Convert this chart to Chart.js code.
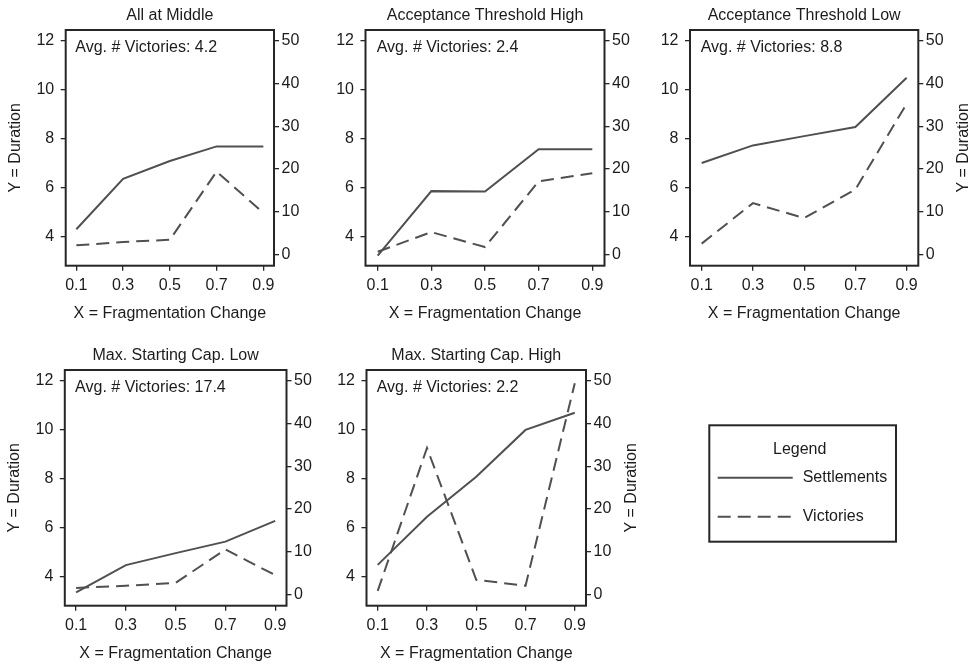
<!DOCTYPE html>
<html>
<head>
<meta charset="utf-8">
<script src="https://cdn.jsdelivr.net/npm/chart.js@4"></script>
<style>
  body { margin: 0; background: #fff; }
  #wrap { position: relative; width: 975px; height: 667px; }
  #wrap canvas { position: absolute; left: 0; top: 0; }
</style>
</head>
<body>
<div id="wrap"></div>
<script>
// ---- data ----
const xValues = [0.1, 0.3, 0.5, 0.7, 0.9];
const xTicks = [0.1, 0.3, 0.5, 0.7, 0.9];
const durationTicks = [4, 6, 8, 10, 12];
const victoryTicks = [0, 10, 20, 30, 40, 50];
const seriesNames = ["Settlements", "Victories"];

const panelTitles = [
  "All at Middle",
  "Acceptance Threshold High",
  "Acceptance Threshold Low",
  "Max. Starting Cap. Low",
  "Max. Starting Cap. High"
];
const avgVictories = ["4.2", "2.4", "8.8", "17.4", "2.2"];

// settlements -> left axis (duration), victories -> right axis
const settlementsAllMiddle = [4.30, 6.36, 7.09, 7.69, 7.69];
const victoriesAllMiddle = [2.1, 2.9, 3.4, 19.4, 9.7];
const settlementsAccHigh = [3.22, 5.86, 5.84, 7.57, 7.57];
const victoriesAccHigh = [0.6, 5.2, 1.7, 17.1, 19.0];
const settlementsAccLow = [7.01, 7.73, 8.11, 8.48, 10.5];
const victoriesAccLow = [2.5, 12.0, 8.5, 15.2, 35.3];
const settlementsCapLow = [3.35, 4.47, 4.96, 5.43, 6.28];
const victoriesCapLow = [1.5, 2.0, 2.7, 10.5, 4.5];
const settlementsCapHigh = [4.48, 6.45, 8.08, 10.0, 10.7];
const victoriesCapHigh = [0.8, 34.3, 3.4, 2.0, 49.5];

// ---- layout / style ----
const W = 975, H = 667;
const FONT = "Liberation Sans, Arial, Helvetica, sans-serif";
const FS = 16;
const TEXT = "#1c1c1c";
const LINE = "#505050";
const FRAME = "#262626";

const panels = [
  { title: panelTitles[0], avg: avgVictories[0], s: settlementsAllMiddle, v: victoriesAllMiddle, box: [65.7, 30, 274, 265.7], yLabel: "left" },
  { title: panelTitles[1], avg: avgVictories[1], s: settlementsAccHigh, v: victoriesAccHigh, box: [365.5, 30, 604.5, 265.7], yLabel: null },
  { title: panelTitles[2], avg: avgVictories[2], s: settlementsAccLow, v: victoriesAccLow, box: [690, 30, 918.3, 265.7], yLabel: "right" },
  { title: panelTitles[3], avg: avgVictories[3], s: settlementsCapLow, v: victoriesCapLow, box: [64.8, 370, 286.5, 605.7], yLabel: "left" },
  { title: panelTitles[4], avg: avgVictories[4], s: settlementsCapHigh, v: victoriesCapHigh, box: [366.5, 370, 586, 605.7], yLabel: "right", legend: true }
];

const tickGrid = { display: true, drawOnChartArea: false, drawTicks: true, tickLength: 5, color: FRAME, lineWidth: 1.3 };
const tickFont = { family: FONT, size: FS };

function txt(ctx, s, x, y, align) {
  ctx.save();
  ctx.font = FS + "px " + FONT;
  ctx.fillStyle = TEXT;
  ctx.textAlign = align || "center";
  ctx.textBaseline = "middle";
  ctx.fillText(s, x, y);
  ctx.restore();
}

const panelDecor = {
  id: "panelDecor",
  afterDraw(chart, args, opts) {
    const p = opts.panel;
    const { ctx, chartArea: a } = chart;
    const cx = (a.left + a.right) / 2;
    ctx.save();
    ctx.strokeStyle = FRAME;
    ctx.lineWidth = 2;
    ctx.strokeRect(a.left, a.top, a.right - a.left, a.bottom - a.top);
    ctx.restore();

    txt(ctx, p.title, cx, a.top - 14.5);
    txt(ctx, "X = Fragmentation Change", cx, a.bottom + 48);

    ctx.save();
    ctx.font = FS + "px " + FONT;
    ctx.fillStyle = TEXT;
    ctx.textAlign = "left";
    ctx.textBaseline = "alphabetic";
    ctx.fillText("Avg. # Victories: " + p.avg, chart.scales.x.getPixelForValue(xValues[0]) - 1, a.top + 22);
    ctx.restore();

    if (p.yLabel) {
      const x = p.yLabel === "left" ? a.left - 50.5 : a.right + 45.5;
      ctx.save();
      ctx.translate(x, (a.top + a.bottom) / 2);
      ctx.rotate(-Math.PI / 2);
      txt(ctx, "Y = Duration", 0, 0);
      ctx.restore();
    }

    if (p.legend) {
      const ds = chart.data.datasets;
      ctx.save();
      ctx.strokeStyle = FRAME;
      ctx.lineWidth = 2;
      ctx.strokeRect(709.3, 425.3, 186.7, 116.4);
      txt(ctx, "Legend", 799.7, 450);
      [477.7, 516.7].forEach((y, i) => {
        ctx.beginPath();
        ctx.strokeStyle = ds[i].borderColor;
        ctx.lineWidth = ds[i].borderWidth;
        ctx.setLineDash(ds[i].borderDash || []);
        ctx.moveTo(717.7, y);
        ctx.lineTo(792.7, y);
        ctx.stroke();
        ctx.setLineDash([]);
        txt(ctx, ds[i].label, 802.7, y, "left");
      });
      ctx.restore();
    }
  }
};

function makePanel(p) {
  const canvas = document.createElement("canvas");
  canvas.width = W;
  canvas.height = H;
  document.getElementById("wrap").appendChild(canvas);
  const [L, T, R, B] = p.box;

  new Chart(canvas, {
    type: "line",
    data: {
      datasets: [
        {
          label: seriesNames[0],
          data: xValues.map((x, i) => ({ x: x, y: p.s[i] })),
          yAxisID: "y",
          borderColor: LINE,
          borderWidth: 2,
          pointRadius: 0,
          tension: 0
        },
        {
          label: seriesNames[1],
          data: xValues.map((x, i) => ({ x: x, y: p.v[i] })),
          yAxisID: "y1",
          borderColor: LINE,
          borderWidth: 2,
          borderDash: [13, 7],
          pointRadius: 0,
          tension: 0
        }
      ]
    },
    options: {
      responsive: false,
      animation: false,
      devicePixelRatio: 1,
      events: [],
      layout: { autoPadding: false, padding: { top: T, left: 0, right: 0, bottom: 0 } },
      plugins: {
        legend: { display: false },
        tooltip: { enabled: false },
        title: { display: false },
        panelDecor: { panel: p }
      },
      scales: {
        x: {
          type: "linear",
          position: "bottom",
          min: 0.0545,
          max: 0.9455,
          afterBuildTicks: (s) => { s.ticks = xTicks.map((v) => ({ value: v })); },
          afterFit: (s) => { s.height = H - B; },
          ticks: { autoSkip: false, maxRotation: 0, padding: 5.5, color: TEXT, font: tickFont, callback: (v) => Number(v).toFixed(1) },
          grid: tickGrid,
          border: { display: false }
        },
        y: {
          type: "linear",
          position: "left",
          min: 2.81,
          max: 12.45,
          afterBuildTicks: (s) => { s.ticks = durationTicks.map((v) => ({ value: v })); },
          afterFit: (s) => { s.width = L; },
          ticks: { padding: 6.5, color: TEXT, font: tickFont },
          grid: tickGrid,
          border: { display: false }
        },
        y1: {
          type: "linear",
          position: "right",
          min: -2.67,
          max: 52.58,
          afterBuildTicks: (s) => { s.ticks = victoryTicks.map((v) => ({ value: v })); },
          afterFit: (s) => { s.width = W - R; },
          ticks: { padding: 2.5, color: TEXT, font: tickFont },
          grid: tickGrid,
          border: { display: false }
        }
      }
    },
    plugins: [panelDecor]
  });
}

panels.forEach(makePanel);
</script>
</body>
</html>
